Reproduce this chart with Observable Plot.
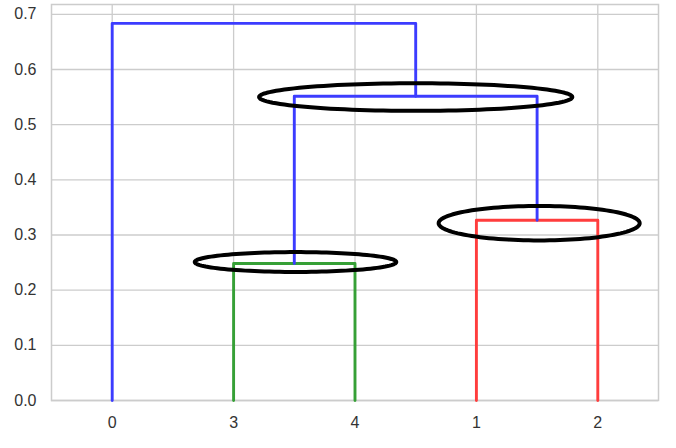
<!DOCTYPE html>
<html>
<head>
<meta charset="utf-8">
<script src="https://cdn.jsdelivr.net/npm/d3@7"></script>
<script src="https://cdn.jsdelivr.net/npm/@observablehq/plot@0.6"></script>
<style>
  html, body { margin: 0; padding: 0; background: #fff; }
  #chart { width: 676px; height: 448px; }
</style>
</head>
<body>
<div id="chart"></div>
<script>
// Leaf order and positions (scipy dendrogram convention: 5, 15, 25, ...)
const leafLabels = ["0", "3", "4", "1", "2"];
const leafPos = [5, 15, 25, 35, 45];

// Links (icoord / dcoord as in scipy's dendrogram output)
const icoord = [
  [15, 15, 25, 25],
  [35, 35, 45, 45],
  [20, 20, 40, 40],
  [5, 5, 30, 30]
];
const dcoord = [
  [0, 0.2483, 0.2483, 0],
  [0, 0.3268, 0.3268, 0],
  [0.2483, 0.5516, 0.5516, 0.3268],
  [0, 0.6836, 0.6836, 0.5516]
];
const linkColors = ["#36a036", "#ff3d3d", "#3c3cff", "#3c3cff"];

// Highlight ellipses (center x, center y, radius x, radius y) in data units
const ellX = [30.0, 40.17, 20.1];
const ellY = [0.550, 0.3214, 0.251];
const ellRx = [12.9, 8.28, 8.3];
const ellRy = [0.025, 0.0313, 0.018];

const yTicks = [0, 0.1, 0.2, 0.3, 0.4, 0.5, 0.6, 0.7];

const linkRows = [];
icoord.forEach((xs, i) => {
  xs.forEach((x, j) => linkRows.push({link: i, x, y: dcoord[i][j], color: linkColors[i]}));
});

const ellRows = [];
ellX.forEach((cx, i) => {
  const n = 120;
  for (let k = 0; k < n; k++) {
    const t = (2 * Math.PI * k) / n;
    ellRows.push({e: i, x: cx + ellRx[i] * Math.cos(t), y: ellY[i] + ellRy[i] * Math.sin(t)});
  }
});

const yMax = d3.max(dcoord.flat()) * 1.05;

const chart = Plot.plot({
  width: 676,
  height: 448,
  marginLeft: 51,
  marginRight: 18,
  marginTop: 4,
  marginBottom: 48,
  style: {fontFamily: "'Liberation Sans', Arial, sans-serif", fontSize: "16px", color: "#333333", background: "#fff"},
  x: {domain: [0, 50], ticks: leafPos, tickFormat: (d) => leafLabels[leafPos.indexOf(d)], tickSize: 0, tickPadding: 16, label: null},
  y: {domain: [0, yMax], ticks: yTicks, tickFormat: d3.format(".1f"), tickSize: 0, tickPadding: 15, label: null},
  marks: [
    Plot.gridX(leafPos, {stroke: "#cccccc", strokeOpacity: 1, strokeWidth: 1.3}),
    Plot.gridY(yTicks, {stroke: "#cccccc", strokeOpacity: 1, strokeWidth: 1.3}),
    Plot.frame({stroke: "#cccccc", strokeWidth: 1.5}),
    Plot.line(linkRows, {x: "x", y: "y", z: "link", stroke: "color", strokeWidth: 2.9}),
    Plot.line(ellRows, {x: "x", y: "y", z: "e", curve: "linear-closed", stroke: "#000", strokeWidth: 4}),
    Plot.axisX({ticks: leafPos, tickFormat: (d) => leafLabels[leafPos.indexOf(d)], tickSize: 0, tickPadding: 16, fontSize: 16}),
    Plot.axisY({ticks: yTicks, tickFormat: d3.format(".1f"), tickSize: 0, tickPadding: 15, fontSize: 16})
  ]
});
document.getElementById("chart").appendChild(chart);
</script>
</body>
</html>
